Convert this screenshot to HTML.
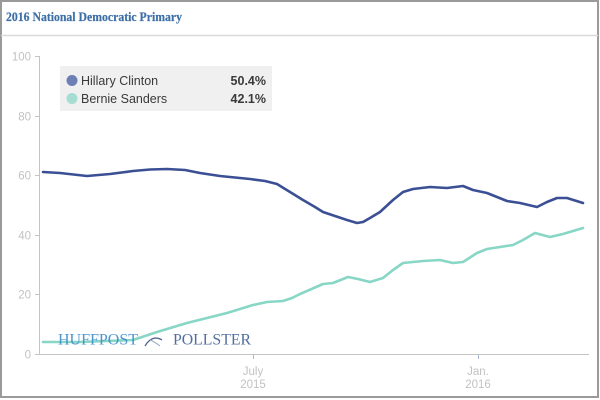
<!DOCTYPE html>
<html><head><meta charset="utf-8"><style>
html,body{margin:0;padding:0;background:#fff;}
svg{display:block;}
</style></head><body>
<svg width="600" height="400" viewBox="0 0 600 400" xmlns="http://www.w3.org/2000/svg">
<rect x="0" y="0" width="600" height="400" fill="#fff"/>
<rect x="1" y="1" width="597" height="396" fill="none" stroke="#9a9a9a" stroke-width="2"/>
<line x1="1" y1="35.5" x2="598" y2="35.5" stroke="#d9d9d9" stroke-width="1.5"/>
<text x="6" y="21" font-family="Liberation Serif, serif" font-weight="bold" font-size="13" fill="#3d6fa6" stroke="#3d6fa6" stroke-width="0.2" textLength="176" lengthAdjust="spacingAndGlyphs">2016 National Democratic Primary</text>

<!-- y axis -->
<line x1="39.5" y1="56" x2="39.5" y2="354" stroke="#c4c4c4" stroke-width="1"/>
<g stroke="#c4c4c4" stroke-width="1">
<line x1="35" y1="56.5" x2="39" y2="56.5"/>
<line x1="35" y1="116.5" x2="39" y2="116.5"/>
<line x1="35" y1="175.5" x2="39" y2="175.5"/>
<line x1="35" y1="235.5" x2="39" y2="235.5"/>
<line x1="35" y1="294.5" x2="39" y2="294.5"/>
<line x1="35" y1="354.5" x2="39" y2="354.5"/>
</g>
<g font-family="Liberation Sans, sans-serif" font-size="11.5" fill="#c2c2c2" text-anchor="end">
<text x="31" y="60.5">100</text>
<text x="31" y="120.5">80</text>
<text x="31" y="179.5">60</text>
<text x="31" y="239.5">40</text>
<text x="31" y="298.5">20</text>
<text x="31" y="358.5">0</text>
</g>
<!-- x axis -->
<line x1="39" y1="354.5" x2="589" y2="354.5" stroke="#c4c4c4" stroke-width="1"/>
<line x1="253.5" y1="355" x2="253.5" y2="359" stroke="#a8bad4" stroke-width="1"/>
<line x1="478.5" y1="355" x2="478.5" y2="359" stroke="#a8bad4" stroke-width="1"/>
<g font-family="Liberation Sans, sans-serif" font-size="11.5" fill="#c2c2c2" text-anchor="middle">
<text x="253" y="375">July</text>
<text x="253" y="388">2015</text>
<text x="478" y="375">Jan.</text>
<text x="478" y="388">2016</text>
</g>

<!-- legend -->
<rect x="60" y="66" width="212" height="45" fill="#f0f0f0"/>
<circle cx="72" cy="80.5" r="5.5" fill="#6e7fb5"/>
<circle cx="72" cy="98.5" r="5.5" fill="#a6ddd3"/>
<g font-family="Liberation Sans, sans-serif" font-size="12.5" fill="#3a3a3a">
<text x="81" y="85">Hillary Clinton</text>
<text x="81" y="103">Bernie Sanders</text>
<text x="266" y="85" text-anchor="end" font-weight="bold">50.4%</text>
<text x="266" y="103" text-anchor="end" font-weight="bold">42.1%</text>
</g>

<!-- series -->
<polyline fill="none" stroke="#3b4f94" stroke-width="2.6" stroke-linejoin="round" stroke-linecap="round"
points="43,172 60,173 87,176 110,174 133,171 150,169.5 167,169 185,170 200,173 220,176 250,179 265,181 277,184 290,192 303,200 315,207 323,212 335,216 347,220 357,223 363,222 370,218 380,212 393,200 403,192 413,189 430,187 447,188 463,186 473,190 487,193 497,197 507,201 520,203 537,207 547,202 557,198 567,198 583,203"/>
<polyline fill="none" stroke="#87d6c6" stroke-width="2.6" stroke-linejoin="round" stroke-linecap="round"
points="43,342 80,342 133,340 157,332 187,323 227,313 253,305 267,302 283,301 292,298 300,294 307,291 323,284 333,283 348,277 358,279 370,282 383,278 393,270 403,263 423,261 440,260 453,263 463,262 477,253 487,249 500,247 513,245 523,240 535,233 550,237 563,234 573,231 583,228"/>

<!-- watermark -->
<g opacity="0.9">
<text x="58" y="344.5" font-family="Liberation Serif, serif" font-size="16" fill="#3d8ccb" textLength="80" lengthAdjust="spacingAndGlyphs">HUFFPOST</text>
<path d="M145,346 Q149,339 155,338 Q159,338 162,340" fill="none" stroke="#3a4f80" stroke-width="1.3"/>
<path d="M150,340 Q155,342 160,346" fill="none" stroke="#8aa0c0" stroke-width="1"/>
<text x="173" y="344.5" font-family="Liberation Serif, serif" font-size="16" fill="#3e5f95" textLength="78" lengthAdjust="spacingAndGlyphs">POLLSTER</text>
</g>
</svg>
</body></html>
